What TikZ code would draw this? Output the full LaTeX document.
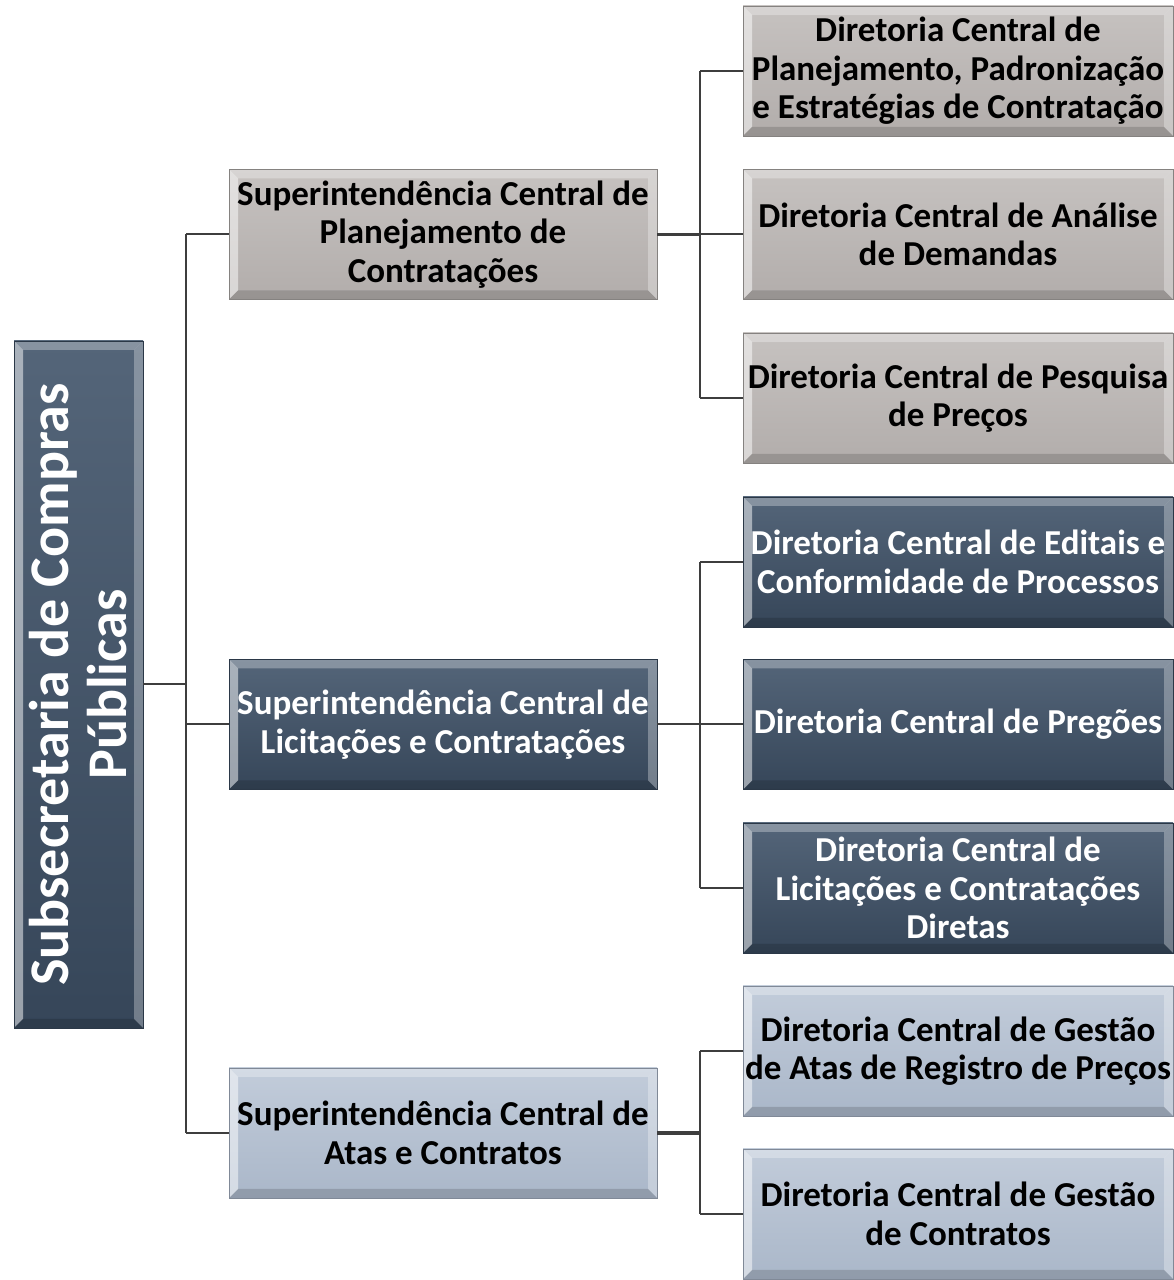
\documentclass[tikz,border=0pt]{standalone}
\usepackage{fontspec}
\setmainfont{Carlito}
\usetikzlibrary{calc}
\definecolor{gtop}{HTML}{C6C2C0}
\definecolor{gbot}{HTML}{B2ADAB}
\definecolor{dtop}{HTML}{546579}
\definecolor{dbot}{HTML}{364659}
\definecolor{ltop}{HTML}{C2CCDA}
\definecolor{lbot}{HTML}{AAB7C9}
\definecolor{conn}{HTML}{3E3E3E}
\tikzset{
  bevel/.style={path picture={
    \fill[white,opacity=.30] (path picture bounding box.north west) -- (path picture bounding box.north east)
      -- ++(-9,-9) -- ($(path picture bounding box.north west)+(9,-9)$) -- cycle;
    \fill[white,opacity=.50] (path picture bounding box.north west) -- ($(path picture bounding box.north west)+(9,-9)$)
      -- ($(path picture bounding box.south west)+(9,9)$) -- (path picture bounding box.south west) -- cycle;
    \fill[white,opacity=.30] (path picture bounding box.north east) -- ($(path picture bounding box.north east)+(-9,-9)$)
      -- ($(path picture bounding box.south east)+(-9,9)$) -- (path picture bounding box.south east) -- cycle;
    \fill[black,opacity=.15] (path picture bounding box.south west) -- ($(path picture bounding box.south west)+(9,9)$)
      -- ($(path picture bounding box.south east)+(-9,9)$) -- (path picture bounding box.south east) -- cycle;
  }},
  orgbox/.style={rectangle, inner sep=0pt, align=center, bevel,
    font=\bfseries\fontsize{35}{38.5}\selectfont},
  graybox/.style={orgbox, top color=gtop, bottom color=gbot, draw=gbot!75!black, text=black},
  darkbox/.style={orgbox, top color=dtop, bottom color=dbot, draw=dbot!80!black, text=white},
  lightbox/.style={orgbox, top color=ltop, bottom color=lbot, draw=lbot!75!black, text=black},
  midbox/.style={minimum width=428pt, minimum height=130pt},
  rbox/.style={minimum width=430pt, minimum height=130pt},
  link/.style={draw=conn, line width=2pt},
  thicklink/.style={draw=conn, line width=3.5pt},
}
\begin{document}
\begin{tikzpicture}[x=1pt,y=1pt]
\useasboundingbox (0,0) rectangle (1173,1280);
\fill[white] (0,0) rectangle (1173,1280);

% left box
\node[darkbox, minimum width=129pt, minimum height=687pt] (sub) at (78.5,595.5) {};
\node[rotate=90, text=white, align=center, font=\bfseries\fontsize{56}{58}\selectfont] (subtxt) at (sub.center) {Subsecretaria de Compras\\Públicas};

% middle column
\node[graybox, midbox] (m1) at (443,1045.5) {Superintendência Central de\\Planejamento de\\Contratações};
\node[darkbox, midbox] (m2) at (443,555.5) {Superintendência Central de\\Licitações e Contratações};
\node[lightbox, midbox] (m3) at (443,147) {Superintendência Central de\\Atas e Contratos};

% right column
\node[graybox, rbox] (r1) at (958,1209) {Diretoria Central de\\Planejamento, Padronização\\e Estratégias de Contratação};
\node[graybox, rbox] (r2) at (958,1045.5) {Diretoria Central de Análise\\de Demandas};
\node[graybox, rbox] (r3) at (958,882) {Diretoria Central de Pesquisa\\de Preços};
\node[darkbox, rbox] (r4) at (958,718) {Diretoria Central de Editais e\\Conformidade de Processos};
\node[darkbox, rbox] (r5) at (958,555.5) {Diretoria Central de Pregões};
\node[darkbox, rbox] (r6) at (958,392) {Diretoria Central de\\Licitações e Contratações\\Diretas};
\node[lightbox, rbox] (r7) at (958,229) {Diretoria Central de Gestão\\de Atas de Registro de Preços};
\node[lightbox, rbox] (r8) at (958,66) {Diretoria Central de Gestão\\de Contratos};

% trunk from left box
\draw[link] (m1.west) -- ++(-43,0) coordinate (t1);
\draw[link] (m3.west) -- ++(-43,0) coordinate (t3);
\draw[link] (t1) -- (t3);
\draw[link] (sub.east) -- (sub.east -| t1);
\draw[link] (m2.west) -- (m2.west -| t1);

% group 1
\draw[link] (r1.west) -- ++(-43,0) coordinate (a1);
\draw[link] (r3.west) -- ++(-43,0) coordinate (a3);
\draw[link] (a1) -- (a3);
\draw[link] (r2.west) -- (r2.west -| a1);
\draw[thicklink] (m1.east) -- (m1.east -| a1);

% group 2
\draw[link] (r4.west) -- ++(-43,0) coordinate (b1);
\draw[link] (r6.west) -- ++(-43,0) coordinate (b3);
\draw[link] (b1) -- (b3);
\draw[link] (r5.west) -- (r5.west -| b1);
\draw[link] (m2.east) -- (m2.east -| b1);

% group 3
\draw[link] (r7.west) -- ++(-43,0) coordinate (c1);
\draw[link] (r8.west) -- ++(-43,0) coordinate (c2);
\draw[link] (c1) -- (c2);
\draw[thicklink] (m3.east) -- (m3.east -| c1);
\end{tikzpicture}
\end{document}
